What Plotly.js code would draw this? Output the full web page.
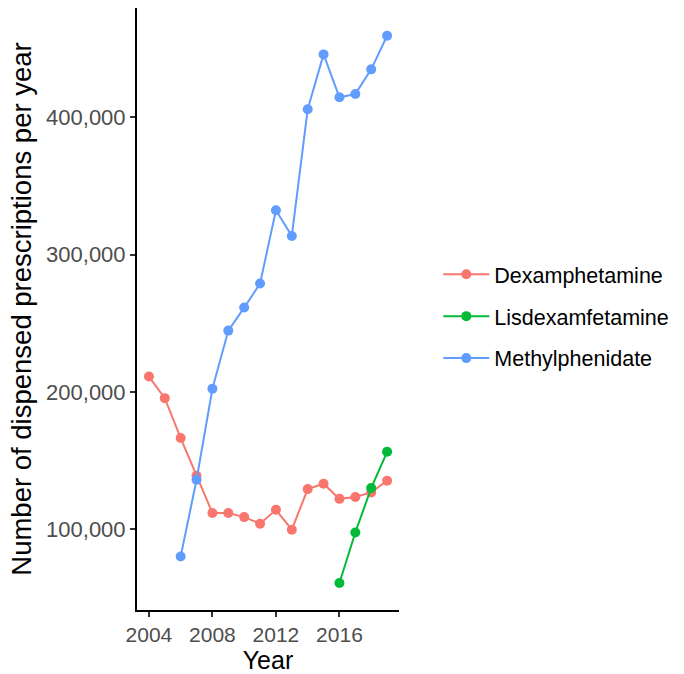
<!DOCTYPE html>
<html>
<head>
<meta charset="utf-8">
<script src="https://cdn.plot.ly/plotly-3.0.1.min.js"></script>
<style>html,body{margin:0;padding:0;background:#fff;}#chart{width:684px;height:674px;}</style>
</head>
<body>
<div id="chart"></div>
<script>
const years = [2004,2005,2006,2007,2008,2009,2010,2011,2012,2013,2014,2015,2016,2017,2018,2019];
const dexYears = years;
const dexValues = [211100,195400,166300,138800,111700,111700,108700,103900,114000,99500,129100,133000,122000,123300,126700,135200];
const lisYears = [2016,2017,2018,2019];
const lisValues = [60700,97500,129900,156300];
const metYears = [2006,2007,2008,2009,2010,2011,2012,2013,2014,2015,2016,2017,2018,2019];
const metValues = [80000,135900,202200,244600,261400,278900,332300,313600,405900,445900,414600,417000,435000,459500];
const seriesNames = ["Dexamphetamine","Lisdexamfetamine","Methylphenidate"];
const seriesColors = ["#F8766D","#00BA38","#619CFF"];
const xTicks = [2004,2008,2012,2016];
const yTicks = [100000,200000,300000,400000];
const yTickLabels = ["100,000","200,000","300,000","400,000"];

const xs = [dexYears, lisYears, metYears];
const ys = [dexValues, lisValues, metValues];
const traces = seriesNames.map((n,i)=>({
  x: xs[i], y: ys[i], name: n, type: 'scatter', mode: 'lines+markers',
  legendgroup: 'g'+i,
  line: {color: seriesColors[i], width: 2},
  marker: {color: seriesColors[i], size: 10}
}));

const layout = {
  width: 684, height: 674,
  margin: {l:137, r:285, t:8, b:64},
  paper_bgcolor: '#fff', plot_bgcolor: '#fff',
  font: {family: '"Liberation Sans", Arial, sans-serif', color: '#000'},
  showlegend: true,
  legend: {x: 1.15, xanchor: 'left', y: 0.488, yanchor: 'middle',
    font: {size: 21.5, color: '#000'}, tracegroupgap: 11, traceorder: 'grouped',
    itemwidth: 46, bgcolor: 'rgba(0,0,0,0)'},
  xaxis: {range: [2003.25, 2019.75], tickvals: xTicks, ticktext: xTicks.map(String),
    showgrid: false, zeroline: false, showline: true, linecolor: '#000', linewidth: 2,
    ticks: 'outside', ticklen: 5, tickwidth: 2, tickcolor: '#333',
    tickfont: {size: 21, color: '#4D4D4D'},
    title: {text: 'Year', font: {size: 25, color: '#000'}, standoff: 6}},
  yaxis: {range: [41000, 479700], tickvals: yTicks, ticktext: yTickLabels,
    showgrid: false, zeroline: false, showline: true, linecolor: '#000', linewidth: 2,
    ticks: 'outside', ticklen: 5, tickwidth: 2, tickcolor: '#333',
    tickfont: {size: 22, color: '#4D4D4D'},
    title: {text: 'Number of dispensed prescriptions per year', font: {size: 27.5, color: '#000'}, standoff: 6}}
};
Plotly.newPlot('chart', traces, layout, {displayModeBar: false, staticPlot: true});
</script>
</body>
</html>
